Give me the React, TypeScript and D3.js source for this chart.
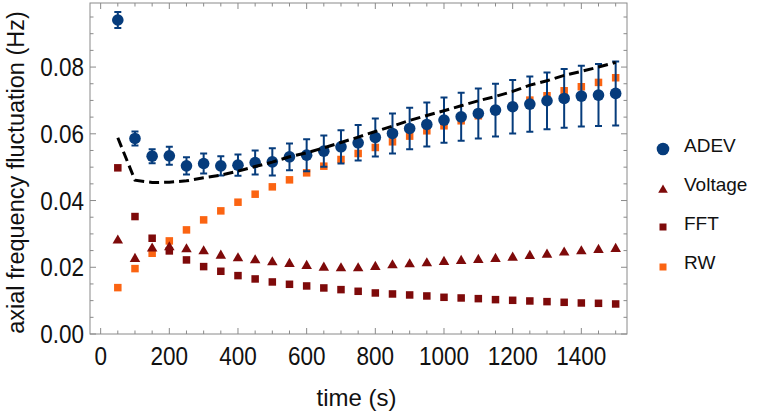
import React from "react";
import * as d3 from "d3";

// Sampling times (s)
const times = [
  50, 100, 150, 200, 250, 300, 350, 400, 450, 500, 550, 600, 650, 700, 750,
  800, 850, 900, 950, 1000, 1050, 1100, 1150, 1200, 1250, 1300, 1350, 1400, 1450, 1500,
];

// Allan deviation with its uncertainty (Hz)
const adev = [
  0.0941, 0.0586, 0.0533, 0.0534, 0.0504, 0.0511, 0.0504, 0.0506, 0.0514, 0.0516,
  0.0531, 0.0536, 0.0548, 0.0561, 0.0573, 0.0589, 0.0601, 0.0616, 0.0628, 0.0641,
  0.0651, 0.0661, 0.0671, 0.0681, 0.0689, 0.0699, 0.0706, 0.0713, 0.0716, 0.0721,
];
const adevErr = [
  0.0024, 0.0021, 0.0021, 0.0027, 0.0026, 0.003, 0.0029, 0.0032, 0.0036, 0.0041,
  0.004, 0.0048, 0.0047, 0.005, 0.0053, 0.0057, 0.006, 0.0062, 0.0066, 0.0068,
  0.0072, 0.0075, 0.0079, 0.008, 0.0083, 0.0085, 0.0088, 0.0091, 0.0093, 0.0096,
];

// Noise contributions (Hz)
const voltage = [
  0.028, 0.0225, 0.0256, 0.026, 0.0254, 0.0248, 0.0235, 0.0227, 0.0221, 0.0215,
  0.021, 0.0204, 0.0199, 0.0197, 0.0197, 0.0201, 0.0206, 0.0209, 0.0212, 0.0216,
  0.0219, 0.0222, 0.0225, 0.0229, 0.0234, 0.0238, 0.0244, 0.0248, 0.0252, 0.0255,
];
const fft = [
  0.0498, 0.0352, 0.0287, 0.0249, 0.0222, 0.0202, 0.0188, 0.0175, 0.0165, 0.0156,
  0.0149, 0.0144, 0.0138, 0.0133, 0.0128, 0.0123, 0.012, 0.0117, 0.0114, 0.011,
  0.0108, 0.0106, 0.0103, 0.0101, 0.0099, 0.0097, 0.0095, 0.0093, 0.0092, 0.009,
];
const rw = [
  0.0139, 0.0196, 0.0242, 0.0279, 0.0312, 0.0342, 0.0369, 0.0395, 0.0419, 0.0441,
  0.0462, 0.0483, 0.0503, 0.0523, 0.0541, 0.0559, 0.0576, 0.0593, 0.0609, 0.0624,
  0.0639, 0.0654, 0.0668, 0.0683, 0.0701, 0.0714, 0.0729, 0.0741, 0.0754, 0.0768,
];
// Combined model curve (Hz)
const total = [
  0.0588, 0.0461, 0.0454, 0.0455, 0.0459, 0.0468, 0.0476, 0.0488, 0.0502, 0.0515,
  0.0531, 0.0543, 0.0558, 0.0574, 0.059, 0.0607, 0.0623, 0.064, 0.0655, 0.0669,
  0.0684, 0.0699, 0.0712, 0.0727, 0.0746, 0.0759, 0.0775, 0.0787, 0.08, 0.0814,
];

const xMajor = [0, 200, 400, 600, 800, 1000, 1200, 1400];
const yMajor = [0, 0.02, 0.04, 0.06, 0.08];
const legendLabels = ["ADEV", "Voltage", "FFT", "RW"];

const BLUE = "#063c7c";
const DARKRED = "#7e0a0a";
const ORANGE = "#fb6412";
const FRAME = "#8a8a8a";
const FONT = "'Liberation Sans', Arial, sans-serif";

const W = 761;
const H = 415;
const L = 90, R = 627, T = 3, B = 334;
const TICK_FS = 25;
const TICK_SX = 0.9;

export default function App() {
  const x = d3.scaleLinear().domain([-31, 1533]).range([L, R]);
  const y = d3.scaleLinear().domain([0, 0.0992]).range([B, T]);

  const xMinor = d3.range(0, 1501, 50);
  const yMinor = d3.range(0, 0.0991, 0.005);

  const totalLine = d3
    .line<number>()
    .x((_, i) => x(times[i]))
    .y((d) => y(d))(total) as string;

  const tri = d3.symbol().type(d3.symbolTriangle).size(48)() as string;
  const triLegend = d3.symbol().type(d3.symbolTriangle).size(40)() as string;

  const sq = 7.5;

  return (
    <svg
      width={W}
      height={H}
      style={{ position: "absolute", left: 0, top: 0, background: "#fff" }}
      fontFamily={FONT}
    >
      {/* frame ticks */}
      <g stroke={FRAME} strokeWidth={1}>
        {xMinor.map((v) => {
          const major = v % 200 === 0;
          const len = major ? 6 : 3.5;
          return (
            <g key={"xt" + v}>
              <line x1={x(v)} x2={x(v)} y1={B} y2={B - len} />
              <line x1={x(v)} x2={x(v)} y1={T} y2={T + len} />
            </g>
          );
        })}
        {yMinor.map((v, i) => {
          const major = i % 4 === 0;
          const len = major ? 6 : 3.5;
          return (
            <g key={"yt" + i}>
              <line x1={L} x2={L + len} y1={y(v)} y2={y(v)} />
              <line x1={R} x2={R - len} y1={y(v)} y2={y(v)} />
            </g>
          );
        })}
        <rect x={L} y={T} width={R - L} height={B - T} fill="none" />
      </g>

      {/* tick labels */}
      <g fontSize={TICK_FS} fill="#111">
        {xMajor.map((v) => (
          <text
            key={"xl" + v}
            transform={`translate(${x(v)}, 365) scale(${TICK_SX}, 1)`}
            textAnchor="middle"
          >
            {v}
          </text>
        ))}
        {yMajor.map((v) => (
          <text
            key={"yl" + v}
            transform={`translate(84, ${y(v) + 9}) scale(${TICK_SX}, 1)`}
            textAnchor="end"
          >
            {v.toFixed(2)}
          </text>
        ))}
      </g>

      {/* axis titles */}
      <text x={(L + R) / 2 - 2} y={406} fontSize={24} textAnchor="middle" fill="#111">
        time (s)
      </text>
      <text
        transform={`translate(24, ${(T + B) / 2 + 4}) rotate(-90)`}
        fontSize={23.5}
        textAnchor="middle"
        fill="#111"
      >
        axial frequency fluctuation (Hz)
      </text>

      {/* random-walk contribution */}
      <g fill={ORANGE}>
        {rw.map((v, i) => (
          <rect key={"rw" + i} x={x(times[i]) - sq / 2} y={y(v) - sq / 2} width={sq} height={sq} />
        ))}
      </g>

      {/* FFT contribution */}
      <g fill={DARKRED}>
        {fft.map((v, i) => (
          <rect key={"fft" + i} x={x(times[i]) - sq / 2} y={y(v) - sq / 2} width={sq} height={sq} />
        ))}
      </g>

      {/* voltage contribution */}
      <g fill={DARKRED}>
        {voltage.map((v, i) => (
          <path key={"v" + i} d={tri} transform={`translate(${x(times[i])}, ${y(v)})`} />
        ))}
      </g>

      {/* ADEV with error bars */}
      <g stroke={BLUE} strokeWidth={2} fill="none">
        {adev.map((v, i) => {
          const cx = x(times[i]);
          const y1 = y(v + adevErr[i]);
          const y2 = y(v - adevErr[i]);
          return (
            <path
              key={"e" + i}
              d={`M${cx},${y1}V${y2}M${cx - 3.5},${y1}H${cx + 3.5}M${cx - 3.5},${y2}H${cx + 3.5}`}
            />
          );
        })}
      </g>
      <g fill={BLUE}>
        {adev.map((v, i) => (
          <circle key={"a" + i} cx={x(times[i])} cy={y(v)} r={5.8} />
        ))}
      </g>

      {/* combined model */}
      <path d={totalLine} fill="none" stroke="#000" strokeWidth={3} strokeDasharray="10,5" />

      {/* legend */}
      <g>
        {legendLabels.map((lab, i) => {
          const cy = 146 + i * 39;
          const mx = 663;
          let marker: React.ReactNode;
          if (i === 0) marker = <circle cx={mx} cy={cy + 3} r={6.3} fill={BLUE} />;
          else if (i === 1)
            marker = <path d={triLegend} transform={`translate(${mx}, ${cy + 5})`} fill={DARKRED} />;
          else
            marker = (
              <rect
                x={mx - 3.5}
                y={cy + 2 + (i === 3 ? 1 : 0) - 3.5 + 1}
                width={7}
                height={7}
                fill={i === 2 ? DARKRED : ORANGE}
              />
            );
          return (
            <g key={lab}>
              {marker}
              <text x={684} y={cy + 6} fontSize={19} fill="#111">
                {lab}
              </text>
            </g>
          );
        })}
      </g>
    </svg>
  );
}
